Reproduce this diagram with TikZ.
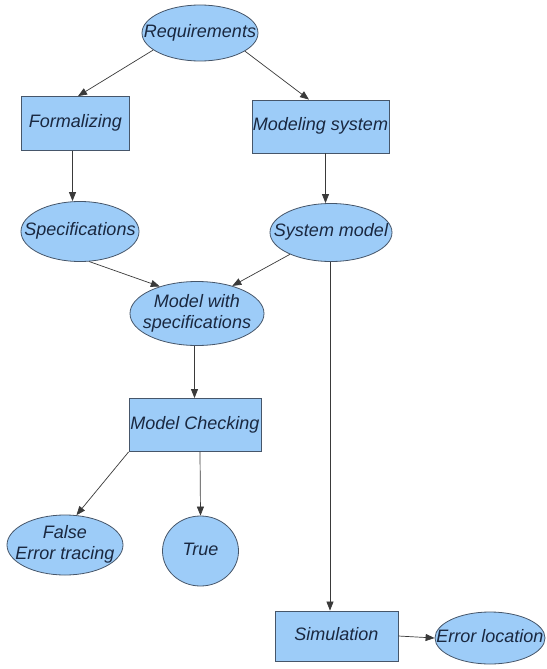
\documentclass[tikz,border=0pt]{standalone}
\usepackage{fontspec}
\setmainfont{Liberation Sans}
\usetikzlibrary{shapes.geometric,arrows.meta}
\definecolor{boxfill}{HTML}{9DCCF8}
\definecolor{boxline}{HTML}{46566A}
\definecolor{txt}{HTML}{1A2840}
\definecolor{conn}{HTML}{3A3A3A}
\newcommand{\nt}[1]{\makebox[0pt]{\begin{tabular}{@{}c@{}}#1\end{tabular}}}
\begin{document}
\begin{tikzpicture}[x=1pt,y=-1pt,
  base/.style={fill=boxfill,draw=boxline,line width=0.8pt,inner sep=0pt,
    text=txt,font=\fontsize{18}{21}\selectfont\itshape},
  ell/.style={base,ellipse},
  rbox/.style={base,rectangle},
  arr/.style={draw=conn,line width=0.7pt,-{Triangle[length=9pt,width=7pt]}}]
\useasboundingbox (0,0) rectangle (546,669);
\fill[white] (0,0) rectangle (546,669);
\node[ell,minimum width=116pt,minimum height=56pt] (req) at (200,33) {\nt{Requirements}};
\node[rbox,minimum width=108pt,minimum height=54pt] (form) at (75.5,123.5) {\nt{Formalizing}};
\node[rbox,minimum width=137pt,minimum height=53pt] (msys) at (320.5,126.5) {\nt{Modeling system}};
\node[ell,minimum width=118pt,minimum height=60pt] (spec) at (80,231.5) {\nt{Specifications}};
\node[ell,minimum width=122pt,minimum height=58pt] (smod) at (331,232.5) {\nt{System model}};
\node[ell,minimum width=134pt,minimum height=64pt] (mws) at (197,313.5) {\nt{Model with\\specifications}};
\node[rbox,minimum width=132pt,minimum height=53pt] (mc) at (195,425) {\nt{Model Checking}};
\node[ell,minimum width=116pt,minimum height=60pt] (false) at (65,545) {\nt{False\\Error tracing}};
\node[ell,minimum width=76pt,minimum height=70pt] (true) at (200.5,551) {\nt{True}};
\node[rbox,minimum width=123pt,minimum height=50pt] (sim) at (336.5,636) {\nt{Simulation}};
\node[ell,minimum width=110pt,minimum height=52pt] (eloc) at (490,638) {\nt{Error location}};
\draw[arr] (req.200) -- (form.north -| 78,0);
\draw[arr] (req.338) -- (msys.north -| 309,0);
\draw[arr] (form.south -| 72.5,0) -- (spec.north -| 72.5,0);
\draw[arr] (msys.south -| 325.5,0) -- (smod.north -| 325.5,0);
\draw[arr] (spec.287) -- (mws.144);
\draw[arr] (smod.208) -- (mws.38);
\draw[arr] (mws.south -| 194.5,0) -- (mc.north -| 194.5,0);
\draw[arr] (mc.south west) -- (false.69);
\draw[arr] (mc.south -| 200,0) -- (true.north);
\draw[arr] (smod.south -| 330,0) -- (sim.north -| 330,0);
\draw[arr] (sim.east) -- (eloc.west);
\end{tikzpicture}
\end{document}
